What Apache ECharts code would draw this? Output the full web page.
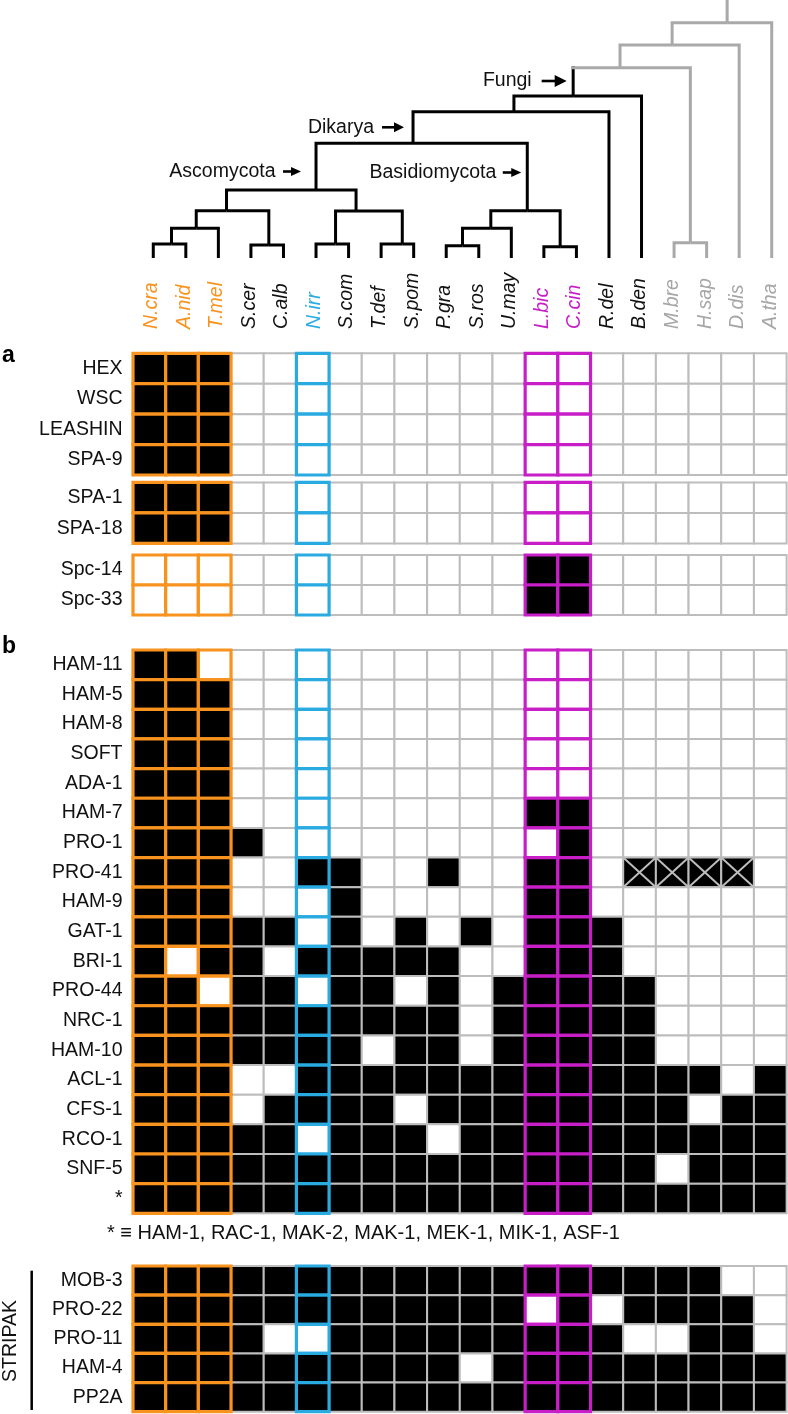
<!DOCTYPE html>
<html><head><meta charset="utf-8">
<script src="https://cdn.jsdelivr.net/npm/echarts@6/dist/echarts.min.js"></script>
<style>html,body{margin:0;padding:0;background:#fff}#c{width:788px;height:1414px}</style>
</head><body><div id="c"></div>
<script>
// ---------------- DATA ----------------
const species = ['N.cra','A.nid','T.mel','S.cer','C.alb','N.irr','S.com','T.def','S.pom','P.gra','S.ros','U.may','L.bic','C.cin','R.del','B.den','M.bre','H.sap','D.dis','A.tha'];
// label colour group per species: o orange, b blue, m magenta, k black, g gray
const speciesGroup = ['o','o','o','k','k','b','k','k','k','k','k','k','m','m','k','k','g','g','g','g'];

const genesA1 = ['HEX','WSC','LEASHIN','SPA-9'];
const valuesA1 = [
  [1,1,1,0,0,0,0,0,0,0,0,0,0,0,0,0,0,0,0,0],
  [1,1,1,0,0,0,0,0,0,0,0,0,0,0,0,0,0,0,0,0],
  [1,1,1,0,0,0,0,0,0,0,0,0,0,0,0,0,0,0,0,0],
  [1,1,1,0,0,0,0,0,0,0,0,0,0,0,0,0,0,0,0,0]
];
const genesA2 = ['SPA-1','SPA-18'];
const valuesA2 = [
  [1,1,1,0,0,0,0,0,0,0,0,0,0,0,0,0,0,0,0,0],
  [1,1,1,0,0,0,0,0,0,0,0,0,0,0,0,0,0,0,0,0]
];
const genesA3 = ['Spc-14','Spc-33'];
const valuesA3 = [
  [0,0,0,0,0,0,0,0,0,0,0,0,1,1,0,0,0,0,0,0],
  [0,0,0,0,0,0,0,0,0,0,0,0,1,1,0,0,0,0,0,0]
];
const genesB = ['HAM-11','HAM-5','HAM-8','SOFT','ADA-1','HAM-7','PRO-1','PRO-41','HAM-9','GAT-1','BRI-1','PRO-44','NRC-1','HAM-10','ACL-1','CFS-1','RCO-1','SNF-5','*'];
// 1 = present, 0 = absent, 2 = present (crossed)
const valuesB = [
  [1,1,0, 0,0,0, 0,0,0,0,0,0, 0,0, 0,0,0,0,0,0],
  [1,1,1, 0,0,0, 0,0,0,0,0,0, 0,0, 0,0,0,0,0,0],
  [1,1,1, 0,0,0, 0,0,0,0,0,0, 0,0, 0,0,0,0,0,0],
  [1,1,1, 0,0,0, 0,0,0,0,0,0, 0,0, 0,0,0,0,0,0],
  [1,1,1, 0,0,0, 0,0,0,0,0,0, 0,0, 0,0,0,0,0,0],
  [1,1,1, 0,0,0, 0,0,0,0,0,0, 1,1, 0,0,0,0,0,0],
  [1,1,1, 1,0,0, 0,0,0,0,0,0, 0,1, 0,0,0,0,0,0],
  [1,1,1, 0,0,1, 1,0,0,1,0,0, 1,1, 0,2,2,2,2,0],
  [1,1,1, 0,0,0, 1,0,0,0,0,0, 1,1, 0,0,0,0,0,0],
  [1,1,1, 1,1,0, 1,0,1,0,1,0, 1,1, 1,0,0,0,0,0],
  [1,0,1, 1,0,1, 1,1,1,1,0,0, 1,1, 1,0,0,0,0,0],
  [1,1,0, 1,1,0, 1,1,0,1,0,1, 1,1, 1,1,0,0,0,0],
  [1,1,1, 1,1,1, 1,1,1,1,0,1, 1,1, 1,1,0,0,0,0],
  [1,1,1, 1,1,1, 1,0,1,1,0,1, 1,1, 1,1,0,0,0,0],
  [1,1,1, 0,0,1, 1,1,1,1,1,1, 1,1, 1,1,1,1,0,1],
  [1,1,1, 0,1,1, 1,1,0,1,1,1, 1,1, 1,1,1,0,1,1],
  [1,1,1, 1,1,0, 1,1,1,0,1,1, 1,1, 1,1,1,1,1,1],
  [1,1,1, 1,1,1, 1,1,1,1,1,1, 1,1, 1,1,0,1,1,1],
  [1,1,1, 1,1,1, 1,1,1,1,1,1, 1,1, 1,1,1,1,1,1]
];
const genesS = ['MOB-3','PRO-22','PRO-11','HAM-4','PP2A'];
const valuesS = [
  [1,1,1, 1,1,1, 1,1,1,1,1,1, 1,1, 1,1,1,1,0,0],
  [1,1,1, 1,1,1, 1,1,1,1,1,1, 0,1, 0,1,1,1,1,0],
  [1,1,1, 1,0,0, 1,1,1,1,1,1, 1,1, 1,0,0,1,1,0],
  [1,1,1, 1,1,1, 1,1,1,1,0,1, 1,1, 1,1,1,1,1,1],
  [1,1,1, 1,1,1, 1,1,1,1,1,1, 1,1, 1,1,1,1,1,1]
];
const footnote = '* \u2261 HAM-1, RAC-1, MAK-2, MAK-1, MEK-1, MIK-1, ASF-1';

// Tree: [name, x (leaf index units), height, parent, gray]
const treeNodes = [
  ['N.cra',0,0,'n1',0],['A.nid',1,0,'n1',0],['T.mel',2,0,'n2',0],
  ['S.cer',3,0,'n3',0],['C.alb',4,0,'n3',0],['N.irr',5,0,'n5',0],
  ['S.com',6,0,'n5',0],['T.def',7,0,'n6',0],['S.pom',8,0,'n6',0],
  ['P.gra',9,0,'n8',0],['S.ros',10,0,'n8',0],['U.may',11,0,'n9',0],
  ['L.bic',12,0,'n10',0],['C.cin',13,0,'n10',0],['R.del',14,0,'n11',0],
  ['B.den',15,0,'Fungi',0],['M.bre',16,0,'n12',1],['H.sap',17,0,'n12',1],
  ['D.dis',18,0,'n14',1],['A.tha',19,0,'root',1],
  ['n1',0.56,14,'n2',0],['n2',1.32,29.7,'n4',0],['n3',3.55,13,'n4',0],
  ['n4',2.25,47.3,'Asco',0],['n5',5.6,14,'n7',0],['n6',7.65,14,'n7',0],
  ['n7',6.23,47,'Asco',0],['Asco',5.0,68,'Dikarya',0],
  ['n8',9.5,12.3,'n9',0],['n9',10.37,29.7,'Basidio',0],['n10',12.5,11.3,'Basidio',0],
  ['Basidio',11.49,47.3,'Dikarya',0],['Dikarya',7.98,114.7,'n11',0],
  ['n11',11.08,146.3,'Fungi',0],['Fungi',12.9,162,'n13',0],
  ['n12',16.5,15.3,'n13',1],['n13',14.34,190.3,'n14',1],['n14',15.94,213,'root',1],
  ['root',17.63,235.3,null,1]
];
const treeTop = 258;
// clade labels: text, node, label height
const cladeText = ['Fungi','Dikarya','Ascomycota','Basidiomycota'];
const cladeNode = ['Fungi','Dikarya','Asco','Basidio'];
const cladeHeight = [177, 130.7, 86.5, 85.5];

// ---------------- STYLE ----------------
const ORANGE = '#F7931E', BLUE = '#29ABE2', MAGENTA = '#C81EC8', GRIDGRAY = '#BDBDBD', TREEGRAY = '#A9A9A9', LABELGRAY = '#A6A6A6', INK = '#111';
const groupColor = {o: ORANGE, b: BLUE, m: MAGENTA, k: INK, g: LABELGRAY};
const hlColor = {}; speciesGroup.forEach((g,i)=>{ if (g==='o'||g==='b'||g==='m') hlColor[i] = groupColor[g]; });
const FONT = '"Liberation Sans", Arial, Helvetica, sans-serif';
const cladeArrow = [{gap:6.5,len:25,head:12,hw:12,tg:10},{gap:9,len:22,head:10,hw:10,tg:8},{gap:15,len:18,head:10,hw:9,tg:7.5},{gap:6,len:18.5,head:10,hw:9,tg:6.5}];

// ---------------- BUILD ----------------
const nodeMap = {}; treeNodes.forEach(n => nodeMap[n[0]] = n);
const treeData = treeNodes.map(n => {
  const p = n[3] ? nodeMap[n[3]] : null;
  return [n[1], n[2], p ? p[1] : n[1], p ? p[2] : treeTop, n[4], p ? p[4] : n[4]];
});
const cladeData = cladeText.map((t,i) => [nodeMap[cladeNode[i]][1], cladeHeight[i], i]);

function cells(values){ const d=[]; values.forEach((row,r)=>row.forEach((v,c)=>d.push([c,r,v]))); return d; }

function cellRender(params, api){
  const c = api.value(0), r = api.value(1), v = api.value(2);
  const p = api.coord([c, r]); const s = api.size([1, 1]);
  const w = s[0], h = s[1], x0 = p[0]-w/2, y0 = p[1]-h/2;
  const hl = hlColor[c];
  const ch = [{type:'rect', shape:{x:x0,y:y0,width:w,height:h}, z2: hl?10:1,
    style:{fill: v ? '#000' : '#fff', stroke: hl || GRIDGRAY, lineWidth: hl ? 3.2 : 2}}];
  if (v === 2) {
    ch.push({type:'line', z2:5, shape:{x1:x0,y1:y0,x2:x0+w,y2:y0+h}, style:{stroke:GRIDGRAY,lineWidth:2}});
    ch.push({type:'line', z2:5, shape:{x1:x0+w,y1:y0,x2:x0,y2:y0+h}, style:{stroke:GRIDGRAY,lineWidth:2}});
  }
  return {type:'group', children: ch};
}

function treeRender(params, api){
  const a = api.coord([api.value(0), api.value(1)]);
  const b = api.coord([api.value(0), api.value(3)]);
  const c = api.coord([api.value(2), api.value(3)]);
  const cA = api.value(4) ? TREEGRAY : '#000', cB = api.value(5) ? TREEGRAY : '#000';
  if (cA === cB) return {type:'polyline', shape:{points:[a,b,c]}, style:{stroke:cA, lineWidth:3, fill:'none', lineJoin:'miter'}};
  return {type:'group', children:[
    {type:'line', shape:{x1:a[0],y1:a[1],x2:b[0],y2:b[1]-1.5}, style:{stroke:cA,lineWidth:3}},
    {type:'line', shape:{x1:b[0]-1.5,y1:b[1],x2:c[0],y2:c[1]}, style:{stroke:cB,lineWidth:3}}
  ]};
}

function cladeRender(params, api){
  const i = api.value(2); const g = cladeArrow[i];
  const p = api.coord([api.value(0), api.value(1)]);
  const tip = p[0] - g.gap, y = p[1];
  return {type:'group', children:[
    {type:'line', shape:{x1:tip-g.len, y1:y, x2:tip-g.head+1, y2:y}, style:{stroke:'#000', lineWidth:2.6}},
    {type:'polygon', shape:{points:[[tip,y],[tip-g.head,y-g.hw/2],[tip-g.head,y+g.hw/2]]}, style:{fill:'#000'}},
    {type:'text', style:{text: cladeText[i], x: tip-g.len-g.tg, y: y, align:'right', verticalAlign:'middle', font: '19.5px ' + FONT, fill: INK}}
  ]};
}

const GL = 133, GW = 653.6;
const blocks = [
  {genes: genesA1, values: valuesA1, top: 353.3, height: 121.7},
  {genes: genesA2, values: valuesA2, top: 482.4, height: 61},
  {genes: genesA3, values: valuesA3, top: 555, height: 60},
  {genes: genesB, values: valuesB, top: 650, height: 563.3},
  {genes: genesS, values: valuesS, top: 1266, height: 145.7}
];

const grid = [
  {left: 137, top: 0, width: 651, height: treeTop},
  {left: 135.5, top: 353, width: 651, height: 1}
];
const xAxis = [
  {gridIndex:0, type:'value', min:-0.5, max:19.5, show:false},
  {gridIndex:1, type:'category', data: species, position:'top',
   axisLine:{show:false}, axisTick:{show:false},
   axisLabel:{interval:0, rotate:90, margin:24, fontSize:19.5, fontStyle:'italic', fontFamily: FONT,
     color: (v, idx) => groupColor[speciesGroup[species.indexOf(v)]]}}
];
const yAxis = [
  {gridIndex:0, type:'value', min:0, max:treeTop, show:false},
  {gridIndex:1, type:'value', show:false}
];
const series = [
  {type:'custom', coordinateSystem:'cartesian2d', xAxisIndex:0, yAxisIndex:0, renderItem: treeRender, data: treeData, encode:{x:0,y:1}, animation:false, silent:true},
  {type:'custom', coordinateSystem:'cartesian2d', xAxisIndex:0, yAxisIndex:0, renderItem: cladeRender, data: cladeData, encode:{x:0,y:1}, animation:false, silent:true}
];
blocks.forEach((b, k) => {
  const gi = grid.length;
  grid.push({left: GL, top: b.top, width: GW, height: b.height});
  xAxis.push({gridIndex: gi, type:'category', data: species, show:false});
  yAxis.push({gridIndex: gi, type:'category', data: b.genes, inverse:true,
    axisLine:{show:false}, axisTick:{show:false}, splitLine:{show:false},
    axisLabel:{interval:0, margin:10.5, fontSize:19.5, color: INK, fontFamily: FONT}});
  series.push({type:'custom', coordinateSystem:'cartesian2d', xAxisIndex: gi, yAxisIndex: gi,
    renderItem: cellRender, data: cells(b.values), encode:{x:0,y:1}, animation:false, silent:true});
});

const graphic = [
  {type:'text', x: 2, y: 356, style:{text:'a', font:'bold 23px ' + FONT, fill:'#000', verticalAlign:'middle'}},
  {type:'text', x: 2, y: 647, style:{text:'b', font:'bold 23px ' + FONT, fill:'#000', verticalAlign:'middle'}},
  {type:'text', x: 107, y: 1233, style:{text: footnote, font:'20px ' + FONT, fill: INK, verticalAlign:'middle'}},
  {type:'text', x: 11, y: 1341, rotation: Math.PI/2, style:{text:'STRIPAK', font:'19.5px ' + FONT, fill: INK, align:'center', verticalAlign:'middle'}},
  {type:'line', shape:{x1:31.7, y1:1270.7, x2:31.7, y2:1410}, style:{stroke:'#000', lineWidth:2.5}}
];

const chart = echarts.init(document.getElementById('c'), null, {renderer:'canvas'});
chart.setOption({animation:false, backgroundColor:'#fff', grid, xAxis, yAxis, series, graphic});
</script></body></html>
